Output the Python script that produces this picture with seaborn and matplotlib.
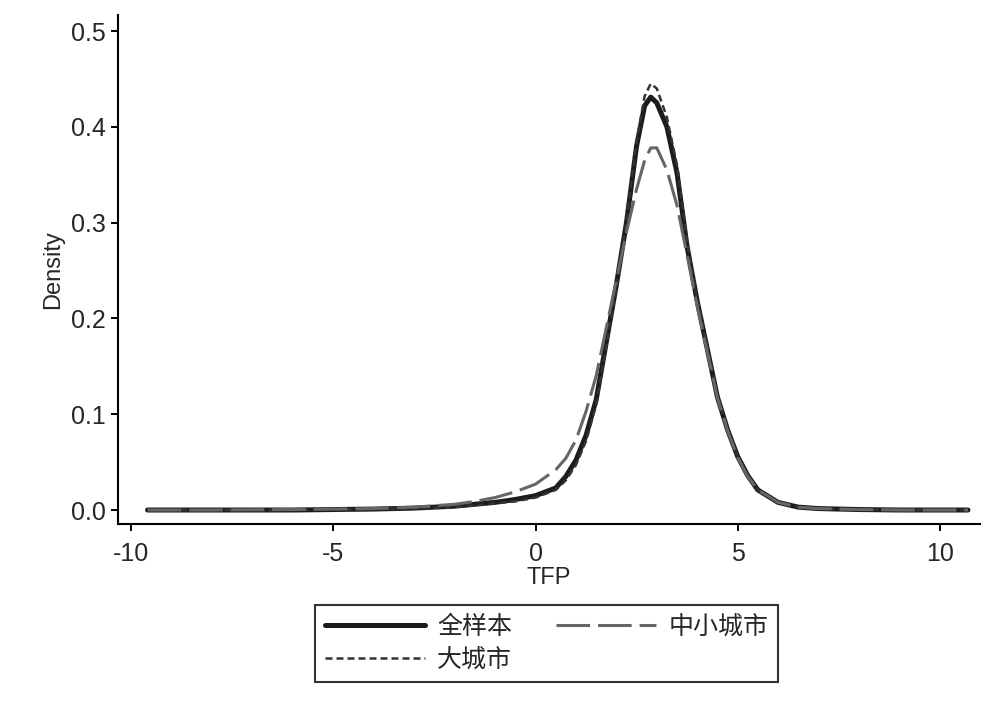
import matplotlib
matplotlib.use("Agg")
import matplotlib.pyplot as plt
import seaborn as sns
import pandas as pd

# kernel density curves
tfp = [-9.6, -8, -6, -4, -3, -2, -1.5, -1, -0.5, 0, 0.5, 0.75, 1, 1.25, 1.5,
       1.75, 2, 2.25, 2.5, 2.7, 2.85, 3.0, 3.25, 3.5, 3.75, 4, 4.25, 4.5,
       4.75, 5, 5.25, 5.5, 6, 6.5, 7, 8, 9, 10.7]

dens_all = [0.0, 0.0, 0.0, 0.001, 0.002, 0.004, 0.006, 0.008, 0.011, 0.015,
            0.023, 0.035, 0.052, 0.078, 0.115, 0.175, 0.235, 0.300, 0.380,
            0.422, 0.431, 0.425, 0.400, 0.352, 0.275, 0.218, 0.168, 0.118,
            0.084, 0.056, 0.036, 0.021, 0.008, 0.003, 0.0015, 0.0005, 0.0, 0.0]

dens_small = [0.0, 0.0, 0.0005, 0.0015, 0.003, 0.006, 0.009, 0.013, 0.019,
              0.027, 0.042, 0.054, 0.073, 0.103, 0.140, 0.190, 0.240, 0.290,
              0.335, 0.365, 0.378, 0.378, 0.355, 0.318, 0.266, 0.213, 0.165,
              0.117, 0.083, 0.055, 0.035, 0.021, 0.008, 0.003, 0.0015, 0.0005,
              0.0, 0.0]

dens_big = [0.0, 0.0, 0.0, 0.0008, 0.0015, 0.003, 0.005, 0.007, 0.009, 0.013,
            0.021, 0.031, 0.047, 0.072, 0.110, 0.170, 0.232, 0.302, 0.385,
            0.432, 0.445, 0.440, 0.410, 0.360, 0.280, 0.220, 0.170, 0.119,
            0.085, 0.056, 0.036, 0.021, 0.008, 0.003, 0.0015, 0.0005, 0.0, 0.0]

labels = ["全样本", "大城市", "中小城市"]
x_ticks = [-10, -5, 0, 5, 10]
y_ticks = [0.0, 0.1, 0.2, 0.3, 0.4, 0.5]

df = pd.DataFrame({"TFP": tfp, labels[0]: dens_all,
                   labels[1]: dens_big, labels[2]: dens_small})

sns.set_style("ticks")
plt.rcParams["font.family"] = ["Liberation Sans", "Noto Sans CJK SC", "DejaVu Sans"]
plt.rcParams["axes.unicode_minus"] = False

fig = plt.figure(figsize=(9.92, 7.01), dpi=100)
ax = fig.add_axes([0.119, 0.2525, 0.869, 0.7265])

sns.lineplot(data=df, x="TFP", y=labels[0], ax=ax, color="#1c1c1c",
             linewidth=3.6, label=labels[0])
sns.lineplot(data=df, x="TFP", y=labels[1], ax=ax, color="#333333",
             linewidth=1.8, linestyle=(0, (2.8, 1.6)), label=labels[1])
sns.lineplot(data=df, x="TFP", y=labels[2], ax=ax, color="#666666",
             linewidth=2.2, linestyle=(0, (11, 2.6)), label=labels[2])

ax.set_xlim(-10.33, 11.0)
ax.set_ylim(-0.0146, 0.517)
ax.set_xticks(x_ticks)
ax.set_xticklabels([str(t) for t in x_ticks])
ax.set_yticks(y_ticks)
ax.set_yticklabels([f"{t:.1f}" for t in y_ticks])
ax.set_xlabel("TFP", fontsize=17, labelpad=1)
ax.set_ylabel("Density", fontsize=17, labelpad=5)
ax.tick_params(axis="both", labelsize=18, length=5, width=1.4, color="black")
ax.tick_params(axis="x", pad=8)
ax.tick_params(axis="y", pad=4)
sns.despine(ax=ax)
for s in ["left", "bottom"]:
    ax.spines[s].set_linewidth(1.5)
    ax.spines[s].set_color("black")

handles, labs = ax.get_legend_handles_labels()
ax.get_legend().remove()
leg = fig.legend(handles, labs, loc="upper center", bbox_to_anchor=(0.551, 0.137),
                 ncol=2, fontsize=18, frameon=True, fancybox=False,
                 handlelength=4.0, handletextpad=0.5, columnspacing=1.75,
                 labelspacing=0.36, borderpad=0.4, borderaxespad=0)
leg.get_frame().set_edgecolor("black")
leg.get_frame().set_linewidth(1.5)

fig.savefig("out.png", dpi=100)
